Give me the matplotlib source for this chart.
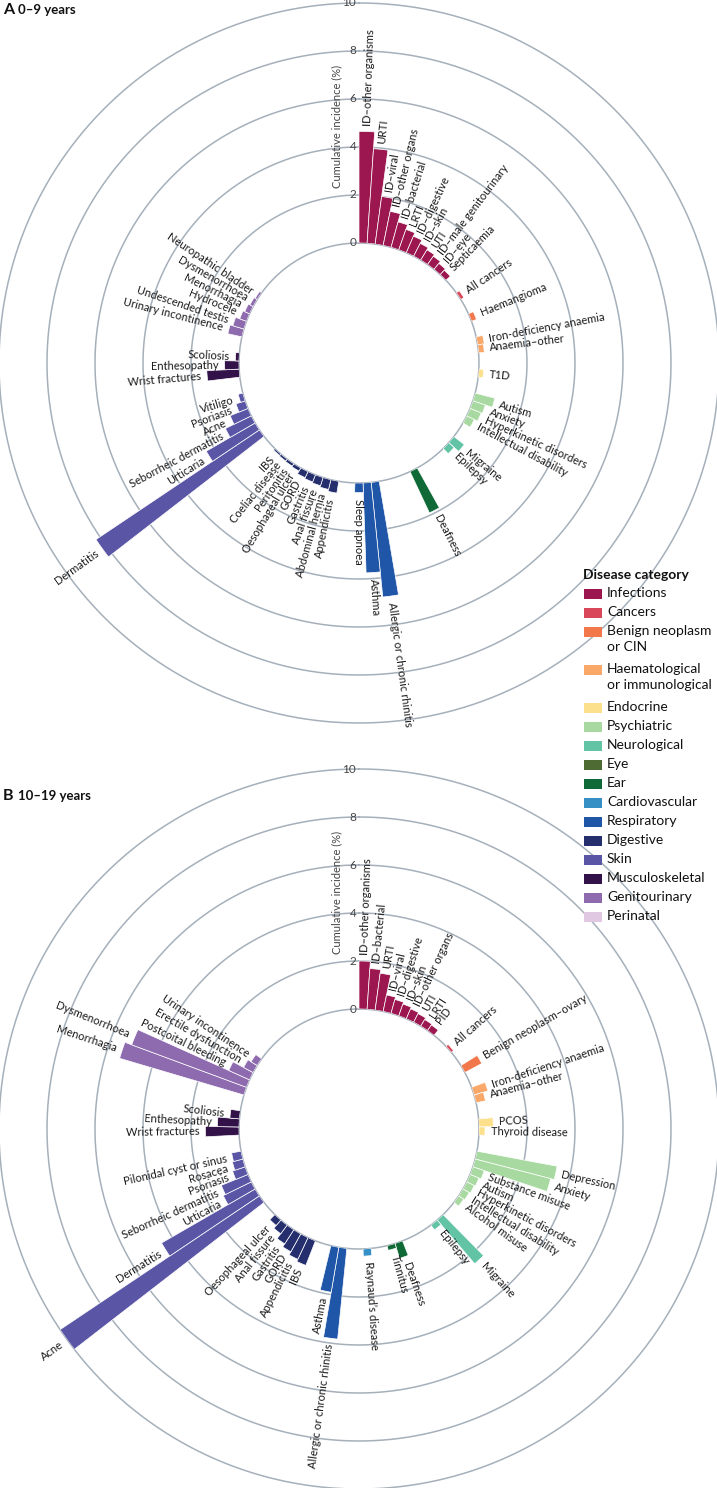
import numpy as np
import matplotlib.pyplot as plt
from matplotlib.patches import Rectangle

plt.rcParams['font.family'] = ['Lato', 'DejaVu Sans']

# disease categories, in drawing order round the circle
categories = ['Infections', 'Cancers', 'Benign', 'Haematological', 'Endocrine',
              'Psychiatric', 'Neurological', 'Eye', 'Ear', 'Cardiovascular',
              'Respiratory', 'Digestive', 'Skin', 'Musculoskeletal',
              'Genitourinary', 'Perinatal']
legend_labels = ['Infections', 'Cancers', 'Benign neoplasm\nor CIN',
                 'Haematological\nor immunological', 'Endocrine', 'Psychiatric',
                 'Neurological', 'Eye', 'Ear', 'Cardiovascular', 'Respiratory',
                 'Digestive', 'Skin', 'Musculoskeletal', 'Genitourinary', 'Perinatal']
cat_colors = ['#9c1750', '#d9485a', '#f2774b', '#f9a86a', '#fde08c', '#a8d9a0',
              '#62c3a5', '#4e6b34', '#0f6a37', '#3690c6', '#1f56a8', '#252f6e',
              '#5a55a5', '#33124a', '#8e6aae', '#e0c8e2']

# ---- panel A: 0-9 years ----
a_names = ['ID–other organisms', 'URTI', 'ID–viral', 'ID–other organs', 'ID–bacterial',
           'LRTI', 'ID–digestive', 'ID–skin', 'UTI', 'ID–male genitourinary', 'ID–eye',
           'Septicaemia',
           'All cancers',
           'Haemangioma',
           'Iron-deficiency anaemia', 'Anaemia–other',
           'T1D',
           'Autism', 'Anxiety', 'Hyperkinetic disorders', 'Intellectual disability',
           'Migraine', 'Epilepsy',
           'Deafness',
           'Allergic or chronic rhinitis', 'Asthma', 'Sleep apnoea',
           'Appendicitis', 'Abdominal hernia', 'Anal fissure', 'Gastritis', 'GORD',
           'Oesophageal ulcer', 'Peritonitis', 'Coeliac disease', 'IBS',
           'Dermatitis', 'Urticaria', 'Seborrheic dermatitis', 'Acne', 'Psoriasis', 'Vitiligo',
           'Wrist fractures', 'Enthesopathy', 'Scoliosis',
           'Urinary incontinence', 'Undescended testis', 'Hydrocele', 'Menorrhagia',
           'Dysmenorrhoea', 'Neuropathic bladder']
a_values = [4.65, 3.95, 2.0, 1.45, 1.1, 0.9, 0.75, 0.6, 0.5, 0.42, 0.32, 0.25,
            0.15,
            0.22,
            0.28, 0.24,
            0.2,
            0.85, 0.55, 0.5, 0.35,
            0.55, 0.3,
            1.9,
            4.8, 3.75, 0.4,
            0.5, 0.42, 0.36, 0.32, 0.28, 0.15, 0.12, 0.1, 0.08,
            8.2, 2.35, 1.2, 0.8, 0.4, 0.2,
            1.35, 0.6, 0.15,
            0.6, 0.48, 0.3, 0.22, 0.15, 0.1]
a_groups = (['Infections'] * 12 + ['Cancers'] + ['Benign'] + ['Haematological'] * 2
            + ['Endocrine'] + ['Psychiatric'] * 4 + ['Neurological'] * 2 + ['Ear']
            + ['Respiratory'] * 3 + ['Digestive'] * 9 + ['Skin'] * 6
            + ['Musculoskeletal'] * 3 + ['Genitourinary'] * 6)

# ---- panel B: 10-19 years ----
b_names = ['ID–other organisms', 'ID–bacterial', 'URTI', 'ID–viral', 'ID–digestive',
           'ID–skin', 'ID–other organs', 'UTI', 'LRTI', 'PID',
           'All cancers',
           'Benign neoplasm–ovary',
           'Iron-deficiency anaemia', 'Anaemia–other',
           'PCOS', 'Thyroid disease',
           'Depression', 'Anxiety', 'Substance misuse', 'Autism', 'Hyperkinetic disorders',
           'Intellectual disability', 'Alcohol misuse',
           'Migraine', 'Epilepsy',
           'Deafness', 'Tinnitus',
           'Raynaud’s disease',
           'Allergic or chronic rhinitis', 'Asthma',
           'IBS', 'Appendicitis', 'GORD', 'Gastritis', 'Anal fissure', 'Oesophageal ulcer',
           'Acne', 'Dermatitis', 'Urticaria', 'Seborrheic dermatitis', 'Psoriasis',
           'Rosacea', 'Pilonidal cyst or sinus',
           'Wrist fractures', 'Enthesopathy', 'Scoliosis',
           'Menorrhagia', 'Dysmenorrhoea', 'Postcoital bleeding', 'Erectile dysfunction',
           'Urinary incontinence']
b_values = [2.0, 1.7, 1.55, 0.7, 0.6, 0.52, 0.45, 0.4, 0.32, 0.28,
            0.12,
            0.8,
            0.6, 0.4,
            0.6, 0.25,
            3.4, 3.25, 0.5, 0.4, 0.35, 0.3, 0.25,
            2.4, 0.25,
            0.65, 0.2,
            0.3,
            3.8, 1.9,
            1.1, 1.0, 0.85, 0.7, 0.45, 0.3,
            10.0, 4.5, 1.3, 1.2, 0.55, 0.45, 0.4,
            1.4, 0.9, 0.4,
            5.4, 5.1, 0.95, 0.45, 0.3]
b_groups = (['Infections'] * 10 + ['Cancers'] + ['Benign'] + ['Haematological'] * 2
            + ['Endocrine'] * 2 + ['Psychiatric'] * 7 + ['Neurological'] * 2 + ['Ear'] * 2
            + ['Cardiovascular'] + ['Respiratory'] * 2 + ['Digestive'] * 6 + ['Skin'] * 7
            + ['Musculoskeletal'] * 3 + ['Genitourinary'] * 5)

N_SLOTS = 93      # angular slots round the circle
GAP = 2           # empty slots after each category
R_HOLE = 5        # inner hole, in data units
RING_COLOR = '#a5b0bb'
W, H = 717, 1488


def slot_positions(groups):
    slots = []
    s = 0
    for cat in categories:
        n = groups.count(cat)
        slots.extend(range(s, s + n))
        s += n + GAP
    return np.array(slots)


def draw_panel(ax, names, values, groups):
    ax.set_theta_zero_location('N')
    ax.set_theta_direction(-1)
    ax.set_rorigin(-R_HOLE)
    ax.set_ylim(0, 10)
    ax.axis('off')

    t = np.linspace(0, 2 * np.pi, 721)
    for r in range(0, 11, 2):
        ax.plot(t, np.full_like(t, r), color=RING_COLOR, lw=1.1, zorder=1, clip_on=False)

    width = 2 * np.pi / N_SLOTS
    theta = slot_positions(groups) * width
    cols = [cat_colors[categories.index(g)] for g in groups]
    ax.bar(theta, values, width=width, bottom=0, align='edge', color=cols,
           edgecolor='white', linewidth=0.5, zorder=2)

    for th, v, name in zip(theta + width / 2, values, names):
        deg = np.degrees(th)
        if deg <= 180.5:
            rot, ha = 90 - deg, 'left'
        else:
            rot, ha = 270 - deg, 'right'
        ax.text(th, v + 0.25, name, rotation=rot, rotation_mode='anchor', ha=ha,
                va='center', fontsize=8, color='#1a1a1a', clip_on=False, zorder=3)

    for r in range(0, 11, 2):
        ax.annotate(str(r), xy=(0, r), xytext=(-2, 0), textcoords='offset points',
                    ha='right', va='center', fontsize=8.5, color='#444444', zorder=3)
    ax.annotate('Cumulative incidence (%)', xy=(0, 4.85), xytext=(-16, 0),
                textcoords='offset points', rotation=90, ha='center', va='center',
                fontsize=8, color='#444444', zorder=3)


fig = plt.figure(figsize=(W / 100, H / 100), dpi=100)

size = 720
axA = fig.add_axes([(359 - size / 2) / W, 1 - (363 + size / 2) / H, size / W, size / H],
                   projection='polar')
axB = fig.add_axes([(359 - size / 2) / W, 1 - (1129 + size / 2) / H, size / W, size / H],
                   projection='polar')
draw_panel(axA, a_names, a_values, a_groups)
draw_panel(axB, b_names, b_values, b_groups)

# panel titles
for label, sub, yp in [('A', '0–9 years', 10), ('B', '10–19 years', 796)]:
    fig.text(3 / W, 1 - yp / H, label, fontsize=11.5, weight='bold', va='center', color='#111111')
    fig.text(18 / W, 1 - yp / H, sub, fontsize=9.5, weight='bold', va='center', color='#111111')

# legend
fig.text(583 / W, 1 - 575 / H, 'Disease category', fontsize=10, weight='bold',
         va='center', color='#111111')
row = 0
for lab, col in zip(legend_labels, cat_colors):
    y = 594 + 19 * row
    fig.add_artist(Rectangle((584 / W, 1 - (y + 4.7) / H), 17.5 / W, 9.4 / H,
                             transform=fig.transFigure, facecolor=col, edgecolor='none'))
    fig.text(607 / W, 1 - (y - 7) / H, lab, fontsize=10, va='top', color='#111111',
             linespacing=1.4)
    row += lab.count('\n') + 1

fig.savefig('out.png', dpi=100)
